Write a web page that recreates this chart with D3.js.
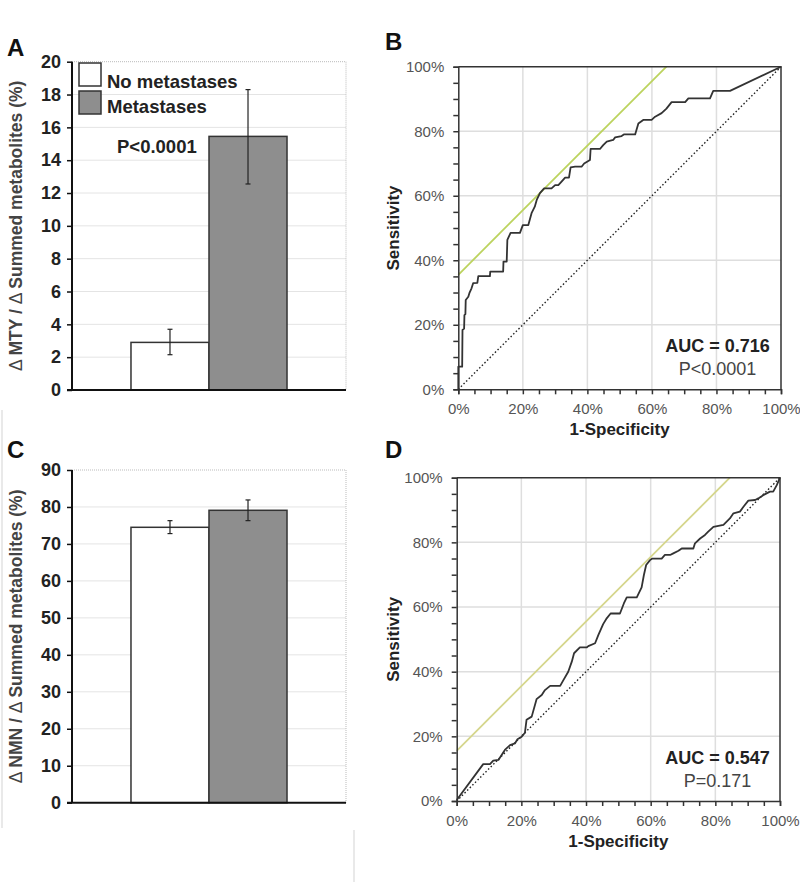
<!DOCTYPE html>
<html><head><meta charset="utf-8">
<script src="https://cdn.jsdelivr.net/npm/d3@7"></script>
<style>
body{margin:0;background:#fff;}
svg{display:block;font-family:"Liberation Sans",Arial,Helvetica,sans-serif;}
</style></head>
<body>
<svg id="c" width="800" height="882"></svg>
<script>
// ---------- DATA ----------
const groups = ["No metastases", "Metastases"];
const groupFill = ["#ffffff", "#8e8e8e"];

// Panel A: Δ MTY / Δ Summed metabolites (%)
const mtyMean = [2.9, 15.45];
const mtyLow  = [2.15, 12.55];
const mtyHigh = [3.7, 18.3];
const mtyTicks = [0, 2, 4, 6, 8, 10, 12, 14, 16, 18, 20];

// Panel C: Δ NMN / Δ Summed metabolites (%)
const nmnMean = [74.5, 79.1];
const nmnLow  = [72.8, 76.3];
const nmnHigh = [76.3, 81.9];
const nmnTicks = [0, 10, 20, 30, 40, 50, 60, 70, 80, 90];

// ROC tick labels (%)
const rocMajor = [0, 20, 40, 60, 80, 100];

// Panel B ROC curve: [1-specificity %, sensitivity %]
const rocB = [[0,0],[0,7],[1.2,7],[1.3,18.4],[1.8,18.8],[1.9,23],[2.2,23.3],[2.3,27.7],[3.1,28.7],[3.5,30],[4.1,31.3],[4.6,32.9],[5.9,33],[6.2,35.1],[9.8,35.1],[9.9,36.5],[13.9,36.5],[14.0,39.6],[15,39.6],[15.2,46.3],[16.2,48.5],[19.1,48.5],[20,50.9],[21.7,50.9],[22.7,54.6],[23.7,56.6],[24.3,58.7],[25.3,60.8],[26.6,62.3],[28.9,62.3],[30,63.3],[31,63.3],[32,64.4],[33.1,65.6],[34.3,65.6],[34.8,68.8],[36.2,69],[38.2,69],[39,70],[40.8,71.1],[41,74.5],[43.9,74.5],[44.9,75.7],[46,76.8],[48,77.3],[48.6,78.1],[50.6,78.5],[51.3,79],[54.8,79],[55.8,82.4],[57.3,83.5],[59.9,83.5],[61,84.5],[63,85.6],[64.5,87],[66.1,89],[70.3,89],[71.3,90.2],[78,90.2],[79,92.5],[84.2,92.5],[100,100]];
const tangentB = [[0,35.5],[64.5,100]];
const aucB = "AUC = 0.716", pB = "P<0.0001";

// Panel D ROC curve
const rocD = [[0,0.3],[8.2,11.4],[10.3,11.4],[11.3,12.5],[12.9,12.7],[14.9,15.8],[16.5,17.3],[18,17.8],[18.8,19.1],[20.1,19.9],[21.1,21.1],[21.6,25.1],[23.2,26.1],[24.7,31.5],[26.3,32.8],[27.3,34.3],[28.9,35.6],[32,35.6],[33,37.4],[34.5,40],[35.6,43.1],[36.3,45.7],[38.1,47.5],[40.2,47.5],[40.7,47.9],[42.8,48.8],[43.8,51.3],[45.3,54.7],[46.4,56.5],[47.6,58],[50.5,58],[51.7,61.1],[52.6,63],[55.7,63],[57.2,66.1],[57.9,69.9],[58.6,73],[59.8,74.5],[60.5,75],[63.4,75],[64.4,76.1],[66,76.1],[67,76.6],[68.6,77.4],[69.6,78.1],[73.2,78.1],[73.7,79.7],[75.3,81.2],[76.8,82.3],[77.8,83.3],[79.4,84.8],[82.5,85.4],[83.5,86.4],[84.5,87.4],[85.6,89],[87.6,89.5],[88.7,91],[90.2,92.9],[92.3,93.1],[93.3,93.6],[94.8,94.6],[96.9,95.7],[97.9,95.7],[99,97.7],[100,100]];
const tangentD = [[0,15.5],[84.5,100]];
const aucD = "AUC = 0.547", pD = "P=0.171";

// ---------- DRAW ----------
const svg = d3.select("#c");
svg.append("rect").attr("width",800).attr("height",882).attr("fill","#fff");

// faint figure frame artifacts
svg.append("line").attr("x1",2).attr("x2",2).attr("y1",410).attr("y2",828).attr("stroke","#e2e2e2").attr("stroke-width",1.5);
svg.append("line").attr("x1",354).attr("x2",354).attr("y1",830).attr("y2",882).attr("stroke","#e2e2e2").attr("stroke-width",1.5);

function letter(t,x,y){
  svg.append("text").attr("x",x).attr("y",y).text(t)
    .attr("font-size",24).attr("font-weight","bold").attr("fill","#111");
}

function barPanel(opt){
  const g = svg.append("g");
  const x = d3.scaleBand().domain(groups).range([72,346]).paddingInner(0).paddingOuter(0.756);
  const y = d3.scaleLinear().domain([0, opt.max]).range([opt.y0, opt.y1]);
  // gridlines
  g.selectAll(".grid").data(opt.ticks.slice(1, -1)).join("line")
    .attr("x1",72).attr("x2",346).attr("y1",d=>y(d)).attr("y2",d=>y(d))
    .attr("stroke","#e4e4e4").attr("stroke-width",1);
  // dotted top/right border
  g.append("line").attr("x1",72).attr("x2",346).attr("y1",y(opt.max)).attr("y2",y(opt.max))
    .attr("stroke","#bbb").attr("stroke-width",1).attr("stroke-dasharray","1,1");
  g.append("line").attr("x1",346).attr("x2",346).attr("y1",y(opt.max)).attr("y2",y(0))
    .attr("stroke","#bbb").attr("stroke-width",1).attr("stroke-dasharray","1,1");
  // bars
  g.selectAll(".bar").data(groups).join("rect")
    .attr("x",d=>x(d)).attr("width",x.bandwidth())
    .attr("y",(d,i)=>y(opt.mean[i])).attr("height",(d,i)=>y(0)-y(opt.mean[i]))
    .attr("fill",(d,i)=>groupFill[i]).attr("stroke","#333").attr("stroke-width",1.5);
  // error bars
  groups.forEach((d,i)=>{
    const cx = x(d) + x.bandwidth()/2;
    g.append("line").attr("x1",cx).attr("x2",cx).attr("y1",y(opt.low[i])).attr("y2",y(opt.high[i]))
      .attr("stroke","#222").attr("stroke-width",1.2);
    [opt.low[i], opt.high[i]].forEach(v=>{
      g.append("line").attr("x1",cx-2.5).attr("x2",cx+2.5).attr("y1",y(v)).attr("y2",y(v))
        .attr("stroke","#222").attr("stroke-width",1.2);
    });
  });
  // y axis
  const ax = g.append("g").attr("transform","translate(72,0)")
    .call(d3.axisLeft(y).tickValues(opt.ticks).tickSize(5).tickPadding(6).tickFormat(d3.format("d")));
  ax.select(".domain").attr("stroke","#111").attr("stroke-width",2).attr("d",`M0,${y(opt.max)}V${y(0)}`);
  ax.selectAll(".tick line").attr("stroke","#111").attr("stroke-width",1.5);
  ax.selectAll(".tick text").attr("font-size",18).attr("font-weight","bold").attr("fill","#222")
    .attr("font-family","Liberation Sans, Arial, sans-serif");
  // x baseline
  g.append("line").attr("x1",67).attr("x2",346).attr("y1",y(0)).attr("y2",y(0))
    .attr("stroke","#111").attr("stroke-width",2);
  // y label
  const cy = (y(0)+y(opt.max))/2;
  const t = g.append("text").attr("transform",`translate(22,${cy}) rotate(-90)`)
    .attr("text-anchor","middle").attr("font-size",17.5).attr("font-weight","bold").attr("fill","#444");
  t.append("tspan").attr("font-weight","normal").text("\u0394 ");
  t.append("tspan").text(opt.label1);
  t.append("tspan").attr("font-weight","normal").text("\u0394 ");
  t.append("tspan").text("Summed metabolites (%)");
  return {g,x,y};
}

// Panel A
letter("A",7,56);
const A = barPanel({max:20, y0:390, y1:61.7, ticks:mtyTicks, mean:mtyMean, low:mtyLow, high:mtyHigh, label1:"MTY / "});
// legend
groups.forEach((d,i)=>{
  svg.append("rect").attr("x",79).attr("y",63+i*28).attr("width",22).attr("height",23)
    .attr("fill",groupFill[i]).attr("stroke","#333").attr("stroke-width",1.5);
  svg.append("text").attr("x",107).attr("y",88+i*24.5).text(d)
    .attr("font-size",18.5).attr("font-weight","bold").attr("fill","#222");
});
svg.append("text").attr("x",117).attr("y",153).text("P<0.0001")
  .attr("font-size",18.5).attr("font-weight","bold").attr("fill","#222");

// Panel C
letter("C",7,458);
barPanel({max:90, y0:802.7, y1:470, ticks:nmnTicks, mean:nmnMean, low:nmnLow, high:nmnHigh, label1:"NMN / "});

// ROC panels
function rocPanel(opt){
  const g = svg.append("g");
  const x = d3.scaleLinear().domain([0,100]).range([opt.x0,opt.x1]);
  const y = d3.scaleLinear().domain([0,100]).range([opt.y0,opt.y1]);
  // grid
  g.selectAll(".gx").data(rocMajor.slice(1,-1)).join("line")
    .attr("x1",d=>x(d)).attr("x2",d=>x(d)).attr("y1",y(0)).attr("y2",y(100))
    .attr("stroke","#dedede").attr("stroke-width",1.5);
  g.selectAll(".gy").data(rocMajor.slice(1,-1)).join("line")
    .attr("y1",d=>y(d)).attr("y2",d=>y(d)).attr("x1",x(0)).attr("x2",x(100))
    .attr("stroke","#dedede").attr("stroke-width",1.5);
  // tangent line
  g.append("line").attr("x1",x(opt.tan[0][0])).attr("y1",y(opt.tan[0][1]))
    .attr("x2",x(opt.tan[1][0])).attr("y2",y(opt.tan[1][1]))
    .attr("stroke",opt.tanColor).attr("stroke-width",1.8);
  // diagonal
  g.append("line").attr("x1",x(0)).attr("y1",y(0)).attr("x2",x(100)).attr("y2",y(100))
    .attr("stroke","#222").attr("stroke-width",1.4).attr("stroke-dasharray","1.5,2.2");
  // curve
  g.append("path").datum(opt.curve)
    .attr("d",d3.line().x(d=>x(d[0])).y(d=>y(d[1])))
    .attr("fill","none").attr("stroke","#333").attr("stroke-width",1.8).attr("stroke-linejoin","round");
  // axes
  const minor = d3.range(0,101,5);
  const fmt = d=> (d%20===0 ? d+"%" : "");
  const ax = g.append("g").attr("transform",`translate(0,${y(0)})`)
    .call(d3.axisBottom(x).tickValues(minor).tickSize(5).tickPadding(9).tickFormat(fmt));
  const ay = g.append("g").attr("transform",`translate(${x(0)},0)`)
    .call(d3.axisLeft(y).tickValues(minor).tickSize(5).tickPadding(9).tickFormat(fmt));
  [ax,ay].forEach(a=>{
    a.select(".domain").attr("stroke","#333").attr("stroke-width",1.5);
    a.selectAll(".tick line").attr("stroke","#333").attr("stroke-width",1.5);
    a.selectAll(".tick text").attr("font-size",15).attr("fill","#555")
      .attr("font-family","Liberation Sans, Arial, sans-serif");
  });
  // frame top/right
  g.append("path").attr("d",`M${x(0)},${y(100)}H${x(100)}V${y(0)}`)
    .attr("fill","none").attr("stroke","#333").attr("stroke-width",1.5);
  // labels
  g.append("text").attr("transform",`translate(399,${(y(0)+y(100))/2}) rotate(-90)`)
    .attr("text-anchor","middle").attr("font-size",17).attr("font-weight","bold").attr("fill","#222")
    .text("Sensitivity");
  g.append("text").attr("x",(x(0)+x(100))/2).attr("y",y(0)+45.5)
    .attr("text-anchor","middle").attr("font-size",17).attr("font-weight","bold").attr("fill","#222")
    .text("1-Specificity");
  g.append("text").attr("x",717.5).attr("y",y(0)-37.5).attr("text-anchor","middle")
    .attr("font-size",18).attr("font-weight","bold").attr("fill","#222").text(opt.auc);
  g.append("text").attr("x",717.5).attr("y",y(0)-14.5).attr("text-anchor","middle")
    .attr("font-size",18).attr("fill","#444").text(opt.p);
}

letter("B",385,50);
rocPanel({x0:458.3,x1:781,y0:389.3,y1:66.7,curve:rocB,tan:tangentB,tanColor:"#bcd35e",auc:aucB,p:pB});
letter("D",385,458);
rocPanel({x0:456.7,x1:780,y0:801,y1:477.7,curve:rocD,tan:tangentD,tanColor:"#d5d68c",auc:aucD,p:pD});
</script>
</body></html>
